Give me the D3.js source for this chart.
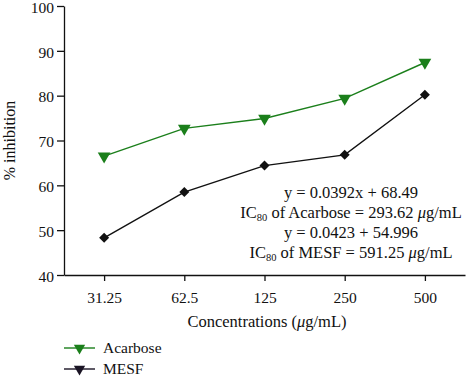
<!DOCTYPE html>
<html>
<head>
<meta charset="utf-8">
<script src="https://cdn.jsdelivr.net/npm/d3@7"></script>
<style>
  body { margin: 0; background: #fff; }
  text { font-family: "Liberation Serif", "DejaVu Serif", serif; }
</style>
</head>
<body>
<div id="chart"></div>
<script>
const concentrations = ["31.25", "62.5", "125", "250", "500"];
const acarbose = [66.5, 72.7, 74.9, 79.4, 87.4];
const mesf = [48.3, 58.5, 64.4, 66.8, 80.2];
const yTicks = [40, 50, 60, 70, 80, 90, 100];
const equations = [
    ["y = 0.0392x + 68.49"],
    ["IC", "80", " of Acarbose = 293.62 ", "μ", "g/mL"],
    ["y = 0.0423 + 54.996"],
    ["IC", "80", " of MESF = 591.25 ", "μ", "g/mL"]
];

const width = 470, height = 377;
const margin = {top: 6, right: 5, bottom: 102, left: 64};
const green = "#1b7f1b", dark = "#111";

const svg = d3.select("#chart").append("svg")
    .attr("width", width)
    .attr("height", height);

const x = d3.scalePoint()
    .domain(concentrations)
    .range([margin.left, width - margin.right])
    .padding(0.5);

const y = d3.scaleLinear()
    .domain([40, 100])
    .range([height - margin.bottom, margin.top]);

// axes
const xAxis = svg.append("g")
    .attr("transform", `translate(0,${height - margin.bottom})`)
    .call(d3.axisBottom(x).tickSize(6).tickSizeOuter(0));
const yAxis = svg.append("g")
    .attr("transform", `translate(${margin.left},0)`)
    .call(d3.axisLeft(y).tickValues(yTicks).tickSize(7).tickSizeOuter(0));

[xAxis, yAxis].forEach(a => {
    a.select(".domain").attr("stroke", "#111").attr("stroke-width", 1.3);
    a.selectAll(".tick line").attr("stroke", "#111").attr("stroke-width", 1.3);
    a.selectAll(".tick text")
        .attr("fill", "#111")
        .attr("font-size", 15.5)
        .style("font-family", "'Liberation Serif', serif");
});
xAxis.selectAll(".tick text").attr("dy", "1.2em");
yAxis.selectAll(".tick text").attr("x", -10).attr("dy", "0.4em");

// axis titles
svg.append("text")
    .attr("transform", `translate(15,${(margin.top + height - margin.bottom) / 2}) rotate(-90)`)
    .attr("text-anchor", "middle")
    .attr("font-size", 16)
    .attr("fill", "#111")
    .text("% inhibition");

const xt = svg.append("text")
    .attr("x", 267)
    .attr("y", 327)
    .attr("text-anchor", "middle")
    .attr("font-size", 16.5)
    .attr("fill", "#111");
xt.append("tspan").text("Concentrations (");
xt.append("tspan").attr("font-style", "italic").text("μ");
xt.append("tspan").text("g/mL)");

// lines
const line = d3.line()
    .x((d, i) => x(concentrations[i]))
    .y(d => y(d));

const tri = d3.symbol().type(d3.symbolTriangle).size(70);
const diamond = d3.symbol().type(d3.symbolSquare).size(50);

svg.append("path")
    .datum(acarbose)
    .attr("fill", "none")
    .attr("stroke", green)
    .attr("stroke-width", 1.4)
    .attr("d", line);

svg.append("path")
    .datum(mesf)
    .attr("fill", "none")
    .attr("stroke", dark)
    .attr("stroke-width", 1.4)
    .attr("d", line);

svg.selectAll(".acarbose-pt")
    .data(acarbose)
    .join("path")
    .attr("class", "acarbose-pt")
    .attr("d", tri)
    .attr("fill", green)
    .attr("transform", (d, i) => `translate(${x(concentrations[i])},${y(d)}) rotate(180)`);

svg.selectAll(".mesf-pt")
    .data(mesf)
    .join("path")
    .attr("class", "mesf-pt")
    .attr("d", diamond)
    .attr("fill", dark)
    .attr("transform", (d, i) => `translate(${x(concentrations[i])},${y(d)}) rotate(45)`);

// regression annotation
equations.forEach((parts, k) => {
    const t = svg.append("text")
        .attr("x", 351)
        .attr("y", 198 + k * 20)
        .attr("text-anchor", "middle")
        .attr("font-size", 16.5)
        .attr("fill", "#111");
    if (parts.length === 1) {
        t.text(parts[0]);
    } else {
        t.append("tspan").text(parts[0]);
        t.append("tspan").attr("font-size", 10.5).attr("dy", 3).text(parts[1]);
        t.append("tspan").attr("dy", -3).text(parts[2]);
        t.append("tspan").attr("font-style", "italic").text(parts[3]);
        t.append("tspan").text(parts[4]);
    }
});

// legend
const legend = svg.append("g")
    .attr("transform", "translate(64,348)");
const legendData = [
    {label: "Acarbose", color: green},
    {label: "MESF", color: "#1a1424"}
];
const items = legend.selectAll("g")
    .data(legendData)
    .join("g")
    .attr("transform", (d, i) => `translate(0,${i * 21})`);
items.append("line")
    .attr("x1", 0).attr("x2", 31)
    .attr("stroke", d => d.color)
    .attr("stroke-width", 1.4);
items.append("path")
    .attr("d", d3.symbol().type(d3.symbolTriangle).size(55))
    .attr("fill", d => d.color)
    .attr("transform", "translate(15.5,0) rotate(180)");
items.append("text")
    .attr("x", 39)
    .attr("y", 5)
    .attr("font-size", 15.5)
    .attr("fill", "#111")
    .text(d => d.label);
</script>
</body>
</html>
